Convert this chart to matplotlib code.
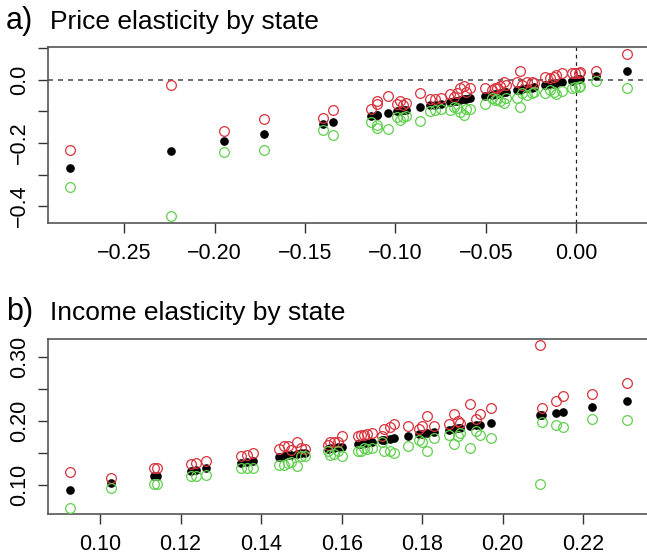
"""
Elasticidades por estado: estimación puntual con cotas superior e inferior.
"""
import numpy as np
import matplotlib.pyplot as plt

plt.rcParams["font.family"] = ["Liberation Sans", "DejaVu Sans"]

# a) elasticidad precio: estimación (se grafica contra sí misma) y cotas
precio_est = [-0.280, -0.2245, -0.195, -0.173, -0.140, -0.1345, -0.1133, -0.1105,
              -0.1100, -0.1043, -0.0990, -0.0975, -0.0960, -0.0942, -0.0866, -0.0810,
              -0.0784, -0.0750, -0.0700, -0.0677, -0.0660, -0.0644, -0.0620, -0.0610,
              -0.0585, -0.0506, -0.0465, -0.0450, -0.0438, -0.0420, -0.0400, -0.0390,
              -0.0327, -0.0309, -0.0300, -0.0270, -0.0245, -0.0235, -0.0171, -0.0143,
              -0.0125, -0.0110, -0.0079, -0.0024, -0.0006, 0.0013, 0.0022, 0.0110,
              0.0280]
precio_sup = [-0.221, -0.017, -0.161, -0.125, -0.121, -0.095, -0.093, -0.067,
              -0.078, -0.051, -0.078, -0.067, -0.080, -0.073, -0.043, -0.062,
              -0.061, -0.059, -0.046, -0.054, -0.043, -0.027, -0.020, -0.038,
              -0.025, -0.025, -0.033, -0.027, -0.025, -0.019, -0.008, -0.017,
              -0.008, 0.0275, -0.017, -0.006, -0.006, -0.011, 0.0076, 0.0044,
              0.0095, 0.017, 0.023, 0.023, 0.023, 0.023, 0.024, 0.0275,
              0.0835]
precio_inf = [-0.339, -0.433, -0.230, -0.221, -0.159, -0.175, -0.135, -0.154,
              -0.143, -0.156, -0.117, -0.128, -0.117, -0.114, -0.131, -0.099,
              -0.096, -0.093, -0.096, -0.085, -0.089, -0.103, -0.110, -0.091,
              -0.093, -0.075, -0.059, -0.064, -0.062, -0.066, -0.072, -0.057,
              -0.057, -0.085, -0.043, -0.048, -0.043, -0.038, -0.041, -0.033,
              -0.038, -0.046, -0.036, -0.025, -0.024, -0.022, -0.019, -0.004,
              -0.027]

# b) elasticidad ingreso
ingreso_est = [0.0926, 0.1027, 0.1135, 0.1141, 0.1226, 0.1238, 0.1263, 0.1350,
               0.1366, 0.1380, 0.1444, 0.1456, 0.1466, 0.1475, 0.1490, 0.1500,
               0.1508, 0.1565, 0.1572, 0.1580, 0.1590, 0.1601, 0.1640, 0.1648,
               0.1655, 0.1663, 0.1676, 0.1700, 0.1705, 0.1720, 0.1729, 0.1764,
               0.1791, 0.1800, 0.1812, 0.1830, 0.1866, 0.1878, 0.1888, 0.1895,
               0.1918, 0.1934, 0.1944, 0.1971, 0.2093, 0.2097, 0.2132, 0.2149,
               0.2221, 0.2308]
ingreso_sup = [0.1208, 0.1104, 0.126, 0.126, 0.133, 0.1347, 0.1372, 0.145,
               0.1476, 0.150, 0.156, 0.1605, 0.1605, 0.1543, 0.1673, 0.158,
               0.1565, 0.163, 0.168, 0.168, 0.1667, 0.176, 0.176, 0.179,
               0.1786, 0.1797, 0.182, 0.176, 0.1874, 0.1915, 0.1957, 0.1926,
               0.1874, 0.1926, 0.2085, 0.1926, 0.1957, 0.2112, 0.2008, 0.1967,
               0.2267, 0.203, 0.2112, 0.2209, 0.318, 0.2209, 0.2318, 0.239,
               0.2417, 0.2597]
ingreso_inf = [0.065, 0.0949, 0.101, 0.102, 0.114, 0.114, 0.1155, 0.126,
               0.126, 0.126, 0.132, 0.132, 0.1347, 0.1363, 0.1305, 0.145,
               0.146, 0.1527, 0.1476, 0.149, 0.1527, 0.145, 0.1538, 0.154,
               0.158, 0.1564, 0.158, 0.168, 0.1538, 0.1527, 0.150, 0.1605,
               0.171, 0.168, 0.1538, 0.1735, 0.1786, 0.1646, 0.177, 0.1812,
               0.158, 0.1837, 0.1775, 0.1735, 0.101, 0.1983, 0.194, 0.190,
               0.203, 0.2019]

# ejes y etiquetas
precio_xticks = [-0.25, -0.20, -0.15, -0.10, -0.05, 0.00]
precio_yticks = [-0.4, -0.3, -0.2, -0.1, 0.0, 0.1]
precio_ylabels = ["-0.4", "", "-0.2", "", "0.0", ""]
ingreso_xticks = [0.10, 0.12, 0.14, 0.16, 0.18, 0.20, 0.22]
ingreso_yticks = [0.10, 0.15, 0.20, 0.25, 0.30]
ingreso_ylabels = ["0.10", "", "0.20", "", "0.30"]

ROJO = "#D8333D"
VERDE = "#61D04F"


def rango_r(*series):
    """Límites al estilo R: rango de los datos + 4% a cada lado."""
    v = np.concatenate([np.asarray(s) for s in series])
    lo, hi = v.min(), v.max()
    d = (hi - lo) * 0.04
    return lo - d, hi + d


def panel(ax, est, sup, inf, xticks, yticks, ylabels, fmt_x):
    ax.plot(est, est, "o", color="black", ms=5.2, mec="black", zorder=3)
    ax.plot(est, sup, "o", mfc="none", mec=ROJO, ms=7.0, mew=0.9, zorder=4)
    ax.plot(est, inf, "o", mfc="none", mec=VERDE, ms=7.0, mew=0.9, zorder=4)

    ax.set_xlim(*rango_r(est))
    ax.set_ylim(*rango_r(est, sup, inf))

    ax.set_xticks(xticks)
    ax.set_xticklabels([fmt_x.format(t).replace("-", "\u2212") for t in xticks])
    ax.set_yticks(yticks)
    ax.set_yticklabels([l.replace("-", "\u2212") for l in ylabels],
                       rotation=90, va="center")

    ax.tick_params(axis="both", direction="out", length=7, width=1,
                   color="#333333", labelsize=15.5)
    ax.tick_params(axis="x", pad=7.5)
    ax.tick_params(axis="y", pad=6)
    for s in ax.spines.values():
        s.set_color("#555555")
        s.set_linewidth(1.2)


fig = plt.figure(figsize=(6.47, 5.56), dpi=100)
fig.patch.set_facecolor("white")

ax1 = fig.add_axes([48 / 647, 1 - 223 / 556, 601 / 647, 176 / 556])
panel(ax1, precio_est, precio_sup, precio_inf,
      precio_xticks, precio_yticks, precio_ylabels, "{:.2f}")
ax1.axhline(0, color="#555555", lw=1.2, ls=(0, (3, 3)), zorder=1)
ax1.axvline(0, color="#222222", lw=0.9, ls=(0, (3, 3)), zorder=1)

ax2 = fig.add_axes([48 / 647, 1 - 514 / 556, 601 / 647, 175 / 556])
panel(ax2, ingreso_est, ingreso_sup, ingreso_inf,
      ingreso_xticks, ingreso_yticks, ingreso_ylabels, "{:.2f}")

# títulos de cada panel
fig.text(6 / 647, 1 - 28.5 / 556, "a)", fontsize=22, va="baseline", ha="left")
fig.text(50 / 647, 1 - 28.5 / 556, "Price elasticity by state", fontsize=19,
         va="baseline", ha="left")
fig.text(6 / 647, 1 - 320 / 556, "b)", fontsize=22, va="baseline", ha="left")
fig.text(50 / 647, 1 - 320 / 556, "Income elasticity by state", fontsize=19,
         va="baseline", ha="left")

fig.savefig("out.png", dpi=100, facecolor=fig.get_facecolor())
